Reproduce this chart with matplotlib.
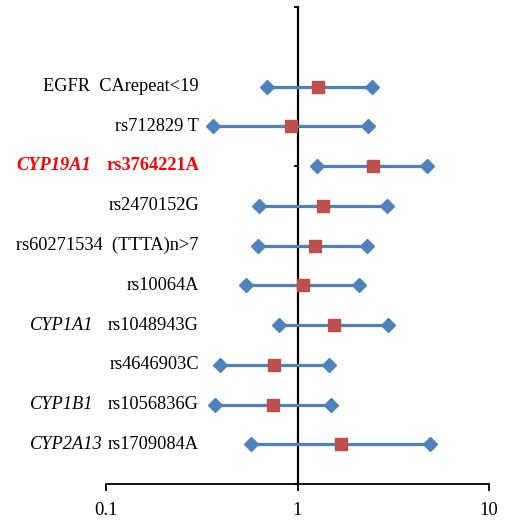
import matplotlib.pyplot as plt
import matplotlib.transforms as mtransforms
import numpy as np

# rows from top to bottom
genes = ['', '', 'CYP19A1', '', '', '', 'CYP1A1', '', 'CYP1B1', 'CYP2A13']
snps = ['EGFR  CArepeat<19', 'rs712829 T', 'rs3764221A', 'rs2470152G',
        'rs60271534  (TTTA)n>7', 'rs10064A', 'rs1048943G', 'rs4646903C',
        'rs1056836G', 'rs1709084A']
odds = [1.28, 0.93, 2.47, 1.36, 1.23, 1.07, 1.56, 0.755, 0.743, 1.69]
ci_low = [0.695, 0.363, 1.27, 0.628, 0.624, 0.537, 0.805, 0.393, 0.369, 0.573]
ci_high = [2.45, 2.34, 4.75, 2.94, 2.31, 2.09, 2.97, 1.46, 1.50, 4.89]
highlight = 'CYP19A1'

blue = '#4F81BD'
red = '#C0504D'
serif = ['Liberation Serif', 'DejaVu Serif']

fig = plt.figure(figsize=(5.07, 5.2), dpi=100)
ax = fig.add_axes([106 / 507, 36 / 520, 383 / 507, 477 / 520])

n = len(snps)
ypos = np.arange(n, 0, -1)

for y, lo, hi in zip(ypos, ci_low, ci_high):
    ax.plot([lo, hi], [y, y], color=blue, lw=2.3, solid_capstyle='butt', zorder=2)
ax.plot(ci_low, ypos, 'D', color=blue, ms=7, ls='none', zorder=3)
ax.plot(ci_high, ypos, 'D', color=blue, ms=7, ls='none', zorder=3)
ax.plot(odds, ypos, 's', color=red, ms=8.5, mec='#B5504C', ls='none', zorder=4)

ax.set_xscale('log')
ax.set_xlim(0.1, 10)
ax.set_ylim(0, 12)

# axes: vertical line at OR = 1
ax.spines['left'].set_position(('data', 1))
ax.spines['left'].set_linewidth(1.6)
ax.spines['bottom'].set_linewidth(1.3)
ax.spines['top'].set_visible(False)
ax.spines['right'].set_visible(False)
ax.spines['left'].set_zorder(1)

ax.set_xticks([0.1, 1, 10])
ax.set_xticklabels(['0.1', '1', '10'], family=serif, fontsize=13.5)
ax.xaxis.set_minor_locator(plt.NullLocator())
ax.tick_params(axis='x', direction='out', length=5, width=1.3, pad=8)
ax.set_yticks([0, 4, 8, 12])
ax.set_yticklabels([])
ax.tick_params(axis='y', direction='out', length=3, width=1.3)

# labels on the left
trans = mtransforms.blended_transform_factory(fig.transFigure, ax.transData)
for y, g, s in zip(ypos, genes, snps):
    hl = g == highlight
    col = 'red' if hl else 'black'
    wt = 'bold' if hl else 'normal'
    ax.text(199 / 507, y, s, transform=trans, ha='right', va='center',
            family=serif, fontsize=13.2, color=col, fontweight=wt)
    if g:
        gx = 16 / 507 if hl else 30 / 507
        ax.text(gx, y, g, transform=trans, ha='left', va='center',
                family=serif, fontsize=13.2, style='italic', color=col,
                fontweight=wt)

fig.savefig('out.png', dpi=100)
